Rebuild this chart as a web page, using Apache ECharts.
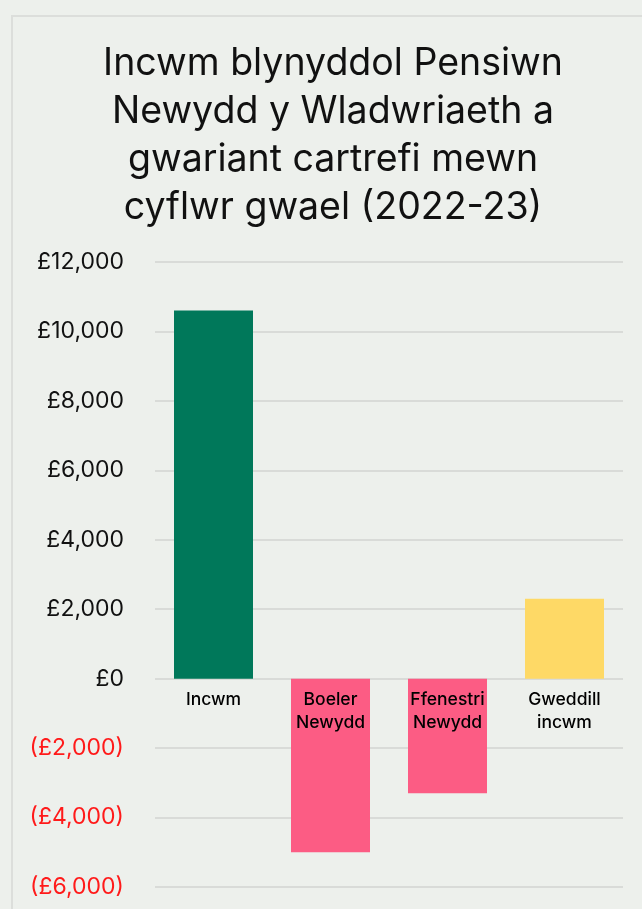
<!DOCTYPE html>
<html>
<head>
<meta charset="utf-8">
<script src="https://cdn.jsdelivr.net/npm/echarts@6/dist/echarts.min.js"></script>
<style>
html,body{margin:0;padding:0;background:#edf0ec;}
#chart{width:642px;height:909px;}
</style>
</head>
<body>
<div id="chart"></div>
<script>
const titleText = 'Incwm blynyddol Pensiwn\nNewydd y Wladwriaeth a\ngwariant cartrefi mewn\ncyflwr gwael (2022-23)';
const categories = ['Incwm', 'Boeler\nNewydd', 'Ffenestri\nNewydd', 'Gweddill\nincwm'];
const values = [10600, -5000, -3300, 2300];
const barColors = ['#00785a', '#fc5c84', '#fed966'];
const colorIndex = [0, 1, 1, 2];

function fmt(v) {
  const s = '£' + Math.abs(v).toLocaleString('en-GB');
  return v < 0 ? '{neg|(' + s + ')}' : '{pos|' + s + '}';
}

const chart = echarts.init(document.getElementById('chart'), null, {renderer: 'canvas'});
chart.setOption({
  backgroundColor: '#edf0ec',
  animation: false,
  graphic: [{
    type: 'rect',
    shape: {x: 12, y: 16, width: 700, height: 1000},
    style: {fill: 'none', stroke: '#dcdedb', lineWidth: 2},
    silent: true, z: -10
  }],
  title: {
    text: titleText,
    left: 328,
    textAlign: 'center',
    top: 35,
    textStyle: {fontFamily: 'Inter', fontSize: 37.5, fontWeight: 400, lineHeight: 48, color: '#111'}
  },
  grid: {left: 155, right: 19, top: 262, bottom: 22, containLabel: false},
  xAxis: {
    type: 'category',
    data: categories,
    axisLine: {show: false},
    axisTick: {show: false},
    axisLabel: {show: false}
  },
  yAxis: {
    type: 'value',
    min: -6000, max: 12000, interval: 2000,
    axisLine: {show: false},
    axisTick: {show: false},
    splitLine: {lineStyle: {color: '#d9dbd8', width: 2}},
    axisLabel: {
      margin: 31,
      formatter: fmt,
      rich: {
        pos: {fontFamily: 'Inter', fontSize: 23, color: '#111'},
        neg: {fontFamily: 'Inter', fontSize: 23, color: '#ff1a1a'}
      }
    }
  },
  series: [{
    type: 'bar',
    barWidth: 79,
    data: values.map((v, i) => ({value: v, itemStyle: {color: barColors[colorIndex[i]]}}))
  }, {
    type: 'scatter',
    z: 10,
    symbolSize: 2,
    itemStyle: {color: 'rgba(0,0,0,0)'},
    silent: true,
    data: categories.map(c => [c, 0]),
    label: {
      show: true,
      position: 'bottom',
      distance: 9,
      formatter: p => p.value[0],
      fontFamily: 'Inter', fontSize: 17.5, fontWeight: 500, lineHeight: 23, color: '#000', opacity: 1, align: 'center'
    }
  }]
});
</script>
</body>
</html>
